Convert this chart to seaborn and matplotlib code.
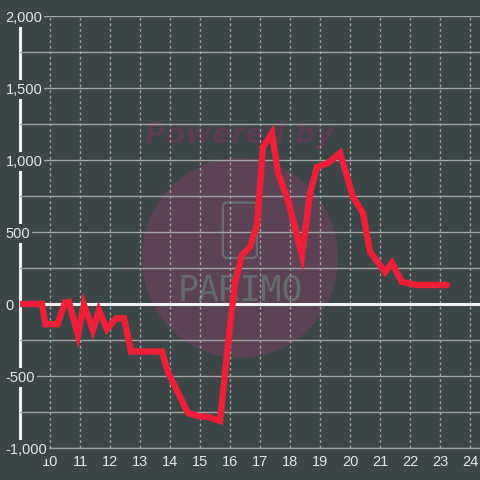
import matplotlib
matplotlib.use("Agg")
import matplotlib.pyplot as plt
from matplotlib.patches import Ellipse, FancyBboxPatch
from matplotlib.ticker import MultipleLocator, FuncFormatter
import seaborn as sns
import pandas as pd

# hour of day vs value
hours = [9.0, 9.73, 9.85, 10.25, 10.5, 10.63, 10.93, 11.13, 11.43, 11.63, 11.9,
         12.2, 12.47, 12.7, 13.73, 13.93, 14.6, 14.93, 15.27, 15.67, 15.93,
         16.17, 16.4, 16.67, 16.9, 17.1, 17.4, 17.6, 17.93, 18.4, 18.67, 18.9,
         19.27, 19.67, 20.1, 20.43, 20.67, 21.17, 21.4, 21.73, 22.23, 23.23]
values = [0, 0, -140, -140, 10, 15, -215, -5, -180, -45, -175,
          -100, -100, -330, -330, -472, -757, -778, -785, -812, -285,
          153, 340, 396, 549, 1090, 1187, 910, 722, 340, 771, 951,
          979, 1049, 743, 632, 361, 222, 285, 153, 132, 132]
x_ticks = list(range(10, 25))
y_ticks = [-1000, -500, 0, 500, 1000, 1500, 2000]

BG = "#3c4646"
GRID = "#a3a3a3"
TXT = "#e6e6e6"
RED = "#ee1f36"

df = pd.DataFrame({"hour": hours, "value": values})

sns.set_style("dark")
plt.rcParams["font.family"] = ["Liberation Sans", "DejaVu Sans"]

fig = plt.figure(figsize=(4.8, 4.8), dpi=100, facecolor=BG)
ax = fig.add_axes([20 / 480, 32 / 480, 460 / 480, 432 / 480])
ax.set_facecolor(BG)
ax.set_axisbelow(False)

# watermark
ax.add_patch(Ellipse((0.478, 0.44), 196 / 460, 200 / 432, transform=ax.transAxes,
                     facecolor="#5b4355", edgecolor="none", zorder=0.6))
ax.add_patch(FancyBboxPatch((0.446, 0.445), 0.064, 0.118, transform=ax.transAxes,
                            boxstyle="round,pad=0.005,rounding_size=0.01",
                            facecolor="none", edgecolor="#676c6d", lw=1.6, zorder=0.7))
ax.text(0.478, 0.725, "Powered by", transform=ax.transAxes, ha="center", va="center",
        fontsize=20.5, fontweight="bold", style="italic", color="#5a3d52",
        family="DejaVu Sans", zorder=0.7)
ax.text(0.478, 0.365, "PARIMO", transform=ax.transAxes, ha="center", va="center",
        fontsize=25, color="#656a6b", family="DejaVu Sans Mono", zorder=0.7)

sns.lineplot(data=df, x="hour", y="value", ax=ax, color=RED, linewidth=4.6,
             estimator=None, sort=False, zorder=3)
ax.get_lines()[-1].set_solid_joinstyle("miter")
ax.axhline(0, color="#f2f2f2", linewidth=2.2, zorder=2.6)

ax.set_xlim(9.0, 24.333)
ax.set_ylim(-1000, 2000)
ax.set_xticks(x_ticks)
ax.set_yticks(y_ticks)
ax.yaxis.set_minor_locator(MultipleLocator(250))
ax.yaxis.set_major_formatter(FuncFormatter(lambda v, p: f"{int(v):,}"))
ax.set_xlabel("")
ax.set_ylabel("")

ax.grid(False)
ax.grid(which="both", axis="y", color=GRID, linewidth=1, linestyle="-")
ax.grid(which="major", axis="x", color=GRID, linewidth=1, linestyle=(0, (2, 2)))

ax.tick_params(axis="both", which="both", length=0, labelsize=10.5, labelcolor=TXT)
ax.tick_params(axis="y", pad=10.5)
ax.tick_params(axis="x", pad=5)
for lab in ax.get_yticklabels():
    lab.set_horizontalalignment("left")
    lab.set_bbox(dict(facecolor=BG, edgecolor="none", pad=1.5))

for side in ["top", "right"]:
    ax.spines[side].set_visible(False)
ax.spines["left"].set_color("#f2f2f2")
ax.spines["left"].set_linewidth(2.2)
ax.spines["bottom"].set_color(GRID)
ax.spines["bottom"].set_linewidth(1)

fig.savefig("out.png", dpi=100, facecolor=BG)
